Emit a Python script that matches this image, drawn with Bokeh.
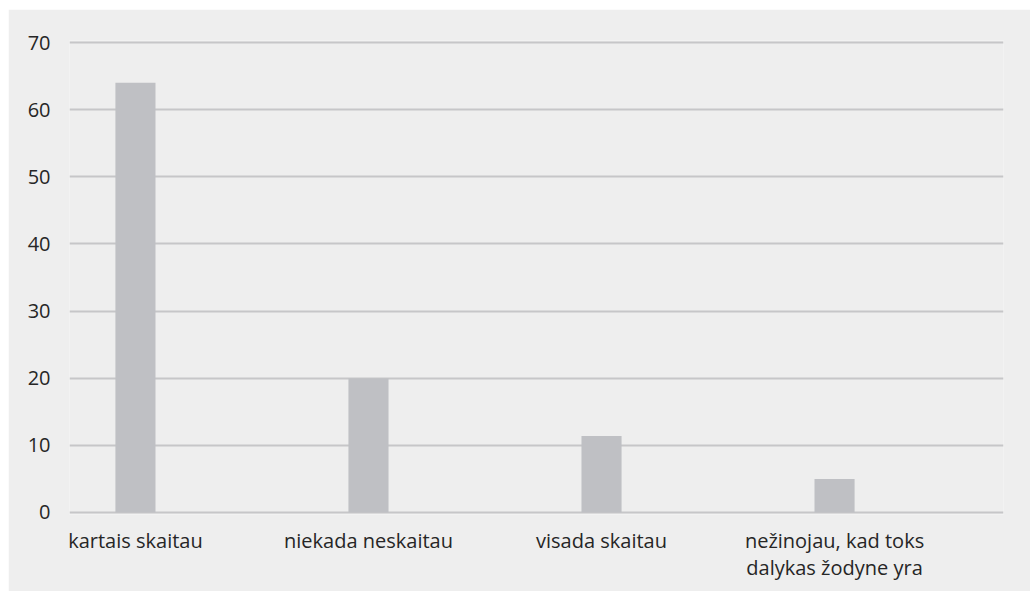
from bokeh.plotting import figure
from bokeh.models import Range1d, FixedTicker, ColumnDataSource, Spacer
from bokeh.layouts import column, row
from bokeh.embed import file_html
from bokeh.resources import INLINE

categories = ["kartais skaitau", "niekada neskaitau", "visada skaitau",
              "nežinojau, kad toks\ndalykas žodyne yra"]
values = [64, 20, 11.4, 5]
y_ticks = [0, 10, 20, 30, 40, 50, 60, 70]

xs = list(range(len(categories)))
src = ColumnDataSource(data=dict(x=xs, top=values, cat=categories))

p = figure(width=1022, height=582, output_backend="svg", toolbar_location=None,
           x_range=Range1d(-0.283, 3.725), y_range=Range1d(-0.3, 70.3),
           min_border_left=61, min_border_right=27, min_border_top=31, min_border_bottom=77)
p.background_fill_color = "#eeeeee"
p.border_fill_color = "#eeeeee"
p.outline_line_color = None

p.vbar(x="x", top="top", width=0.172, bottom=0, source=src,
       fill_color="#bfc0c4", line_color=None)

p.xgrid.grid_line_color = None
p.ygrid.grid_line_color = "#c6c6c8"
p.ygrid.grid_line_width = 2
p.ygrid.ticker = FixedTicker(ticks=y_ticks)

p.yaxis.ticker = FixedTicker(ticks=y_ticks)
p.xaxis.ticker = FixedTicker(ticks=xs)
p.xaxis.major_label_overrides = {i: c for i, c in zip(xs, categories)}

for ax in (p.xaxis, p.yaxis):
    ax.axis_line_color = None
    ax.major_tick_line_color = None
    ax.minor_tick_line_color = None
    ax.major_tick_out = 0
    ax.major_tick_in = 0
    ax.major_label_text_font = "Open Sans"
    ax.major_label_text_font_size = "20px"
    ax.major_label_text_color = "#262626"

p.yaxis.major_label_standoff = 19
p.xaxis.major_label_standoff = 12
p.xaxis.major_label_text_line_height = 1.0

layout = column(Spacer(width=1030, height=9),
                row(Spacer(width=8, height=582), p))

open("out.html", "w").write(file_html(layout, INLINE))
